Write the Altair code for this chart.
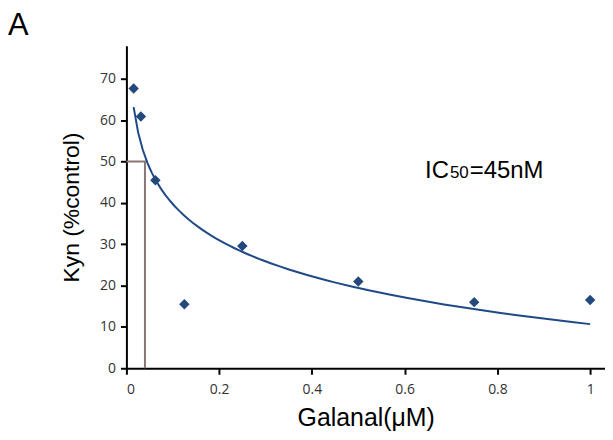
import altair as alt
import pandas as pd

conc = [0.0156, 0.03125, 0.0625, 0.125, 0.25, 0.5, 0.75, 1.0]
kyn = [67.7, 60.9, 45.5, 15.5, 29.6, 21.0, 16.0, 16.5]
ic50_x = [0.0, 0.04, 0.04]
ic50_y = [50.0, 50.0, 0.0]
x_ticks = [0, 0.2, 0.4, 0.6, 0.8, 1]
y_ticks = [0, 10, 20, 30, 40, 50, 60, 70]

df = pd.DataFrame({"x": conc, "y": kyn})
dl = pd.DataFrame({"x": ic50_x, "y": ic50_y, "o": [0, 1, 2]})

xs = alt.Scale(domain=[0, 1.032], nice=False, zero=False)
ys = alt.Scale(domain=[0, 78], nice=False)

axis_common = dict(domainColor="black", domainWidth=2, tickColor="black", tickWidth=2,
                   tickSize=6, labelFont="Open Sans", labelFontSize=14, labelColor="#333333",
                   grid=False, titleFont="Liberation Sans", titleColor="black",
                   titleFontWeight="normal")

xax = alt.Axis(values=x_ticks, title="Galanal(μM)", titleFontSize=25, labelPadding=8,
               titlePadding=10, format="~g", **axis_common)
yax = alt.Axis(values=y_ticks, title="Kyn (%control)", titleFontSize=23, labelPadding=5,
               titlePadding=16, **axis_common)

base = alt.Chart(df)

points = base.mark_point(shape="diamond", filled=True, size=110, color="#23497c", opacity=1).encode(
    x=alt.X("x:Q", scale=xs, axis=xax),
    y=alt.Y("y:Q", scale=ys, axis=yax),
)

fit = base.transform_regression("x", "y", method="log", extent=[0.0156, 1]).mark_line(
    color="#1f4a86", strokeWidth=2
).encode(x=alt.X("x:Q", scale=xs), y=alt.Y("y:Q", scale=ys))

ic = alt.Chart(dl).mark_line(color="#8a7676", strokeWidth=2).encode(
    x=alt.X("x:Q", scale=xs), y=alt.Y("y:Q", scale=ys), order="o:Q"
)

lab = pd.DataFrame({"x": [0.644], "y": [46.0]})
t1 = alt.Chart(lab).mark_text(text="IC", align="left", baseline="alphabetic", fontSize=24,
                              font="Liberation Sans", color="black").encode(
    x=alt.X("x:Q", scale=xs), y=alt.Y("y:Q", scale=ys))
t2 = alt.Chart(lab).mark_text(text="50", align="left", baseline="alphabetic", fontSize=17,
                              font="Liberation Sans", color="black", dx=25).encode(
    x=alt.X("x:Q", scale=xs), y=alt.Y("y:Q", scale=ys))
t3 = alt.Chart(lab).mark_text(text="=45nM", align="left", baseline="alphabetic", fontSize=24,
                              font="Liberation Sans", color="black", dx=45).encode(
    x=alt.X("x:Q", scale=xs), y=alt.Y("y:Q", scale=ys))

panel = alt.Chart(lab).mark_text(text="A", align="left", baseline="top", fontSize=31,
                                 font="Liberation Sans", color="black").encode(
    x=alt.value(-119), y=alt.value(-35))

chart = alt.layer(ic, fit, points, t1, t2, t3, panel).properties(
    width=481, height=324,
    autosize=alt.AutoSizeParams(type="none"),
    padding={"left": 119, "top": 37, "right": 0, "bottom": 63},
).configure_view(stroke=None)

chart.save("out.html", embed_options={"renderer": "svg", "actions": False})
